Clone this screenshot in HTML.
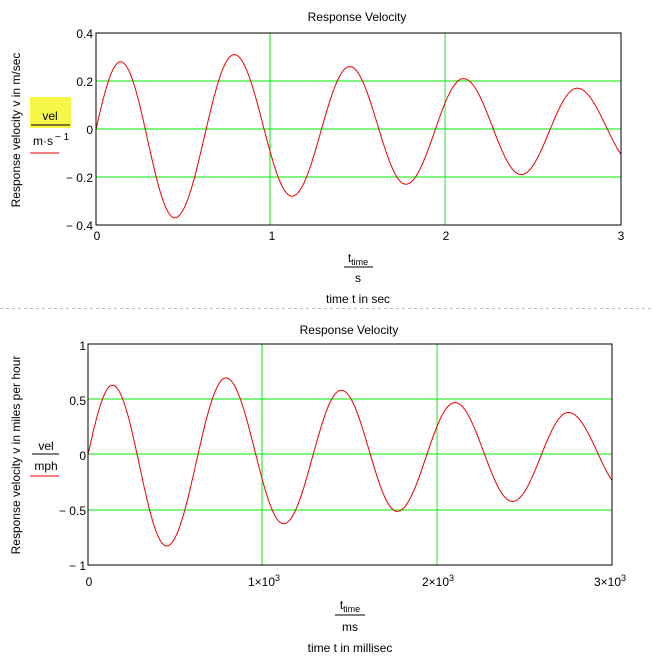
<!DOCTYPE html>
<html><head><meta charset="utf-8"><style>
body{margin:0;background:#fff;}
svg{display:block;font-family:"Liberation Sans",Arial,sans-serif;font-size:12px;}
</style></head><body>
<svg id="s" width="653" height="661" viewBox="0 0 653 661">
<rect width="653" height="661" fill="#fff"/>
<!-- Plot 1 -->
<text x="357" y="21" text-anchor="middle">Response Velocity</text>
<g stroke="#00ee00" stroke-width="1" shape-rendering="crispEdges">
<line x1="96" y1="81" x2="621" y2="81"/><line x1="96" y1="129" x2="621" y2="129"/><line x1="96" y1="177" x2="621" y2="177"/>
<line x1="270" y1="33" x2="270" y2="225"/><line x1="445" y1="33" x2="445" y2="225" stroke="#33dd33"/>
</g>
<path id="p1" fill="none" stroke="#e00" stroke-width="1"/>
<rect x="96" y="33" width="525" height="192" fill="none" stroke="#000" stroke-width="1" shape-rendering="crispEdges"/>
<g text-anchor="end">
<text x="93" y="38">0.4</text><text x="93" y="86">0.2</text><text x="93" y="134">0</text><text x="93" y="182">− 0.2</text><text x="93" y="230">− 0.4</text>
</g>
<g text-anchor="middle">
<text x="97" y="240">0</text><text x="272" y="240">1</text><text x="446" y="240">2</text><text x="621" y="240">3</text>
</g>
<text transform="translate(20,130) rotate(-90)" text-anchor="middle">Response velocity v  in m/sec</text>
<rect x="30" y="97" width="41" height="31" fill="#f5f54a"/>
<text x="50" y="120" text-anchor="middle">vel</text>
<line x1="31" y1="125" x2="70" y2="125" stroke="#000"/>
<text x="33" y="145">m·s</text><text x="55" y="140" font-size="10">− 1</text>
<line x1="30" y1="153" x2="59" y2="153" stroke="#e00"/>
<text x="358" y="262" text-anchor="middle">t<tspan font-size="9" dy="3">time</tspan></text>
<line x1="344" y1="267" x2="373" y2="267" stroke="#000"/>
<text x="358" y="282" text-anchor="middle">s</text>
<text x="358" y="303" text-anchor="middle">time t in sec</text>
<line x1="0" y1="308.5" x2="653" y2="308.5" stroke="#bbb" stroke-dasharray="3,3"/>
<!-- Plot 2 -->
<text x="349" y="334" text-anchor="middle">Response Velocity</text>
<g stroke="#00ee00" stroke-width="1" shape-rendering="crispEdges">
<line x1="88" y1="399" x2="612" y2="399"/><line x1="88" y1="454" x2="612" y2="454"/><line x1="88" y1="510" x2="612" y2="510"/>
<line x1="262" y1="344" x2="262" y2="565"/><line x1="437" y1="344" x2="437" y2="565" stroke="#33dd33"/>
</g>
<path id="p2" fill="none" stroke="#e00" stroke-width="1"/>
<rect x="88" y="344" width="524" height="221" fill="none" stroke="#000" stroke-width="1" shape-rendering="crispEdges"/>
<g text-anchor="end">
<text x="86" y="350">1</text><text x="86" y="405">0.5</text><text x="86" y="460">0</text><text x="86" y="515">− 0.5</text><text x="86" y="570">− 1</text>
</g>
<text x="89" y="586" text-anchor="middle">0</text>
<text x="264" y="586" text-anchor="middle">1×10<tspan font-size="9" dy="-5">3</tspan></text>
<text x="438" y="586" text-anchor="middle">2×10<tspan font-size="9" dy="-5">3</tspan></text>
<text x="610" y="586" text-anchor="middle">3×10<tspan font-size="9" dy="-5">3</tspan></text>
<text transform="translate(20,455) rotate(-90)" text-anchor="middle">Response velocity v  in miles per hour</text>
<text x="46" y="450" text-anchor="middle">vel</text>
<line x1="32" y1="454" x2="59" y2="454" stroke="#000"/>
<text x="46" y="470" text-anchor="middle">mph</text>
<line x1="30" y1="476" x2="59" y2="476" stroke="#e00"/>
<text x="350" y="609" text-anchor="middle">t<tspan font-size="9" dy="3">time</tspan></text>
<line x1="335" y1="615" x2="365" y2="615" stroke="#000"/>
<text x="350" y="631" text-anchor="middle">ms</text>
<text x="350" y="652" text-anchor="middle">time t in millisec</text>
</svg>
<script>
var ex=[[0.14,0.28],[0.45,-0.37],[0.79,0.31],[1.12,-0.28],[1.45,0.26],[1.77,-0.23],[2.1,0.21],[2.43,-0.19],[2.75,0.17],[3.08,-0.15]];
function v(t){
 if(t<=0.14) return 0.28*Math.sin(t/0.14*Math.PI/2);
 for(var i=0;i<ex.length-1;i++){var a=ex[i],b=ex[i+1];
  if(t<=b[0]){var f=(t-a[0])/(b[0]-a[0]);return a[1]+(b[1]-a[1])*(1-Math.cos(f*Math.PI))/2;}}
 return 0;}
var d1="",d2="";
for(var i=0;i<=600;i++){var t=3*i/600,y=v(t);
 d1+=(i?"L":"M")+(96+t*175).toFixed(1)+","+(129-y*240).toFixed(1);
 d2+=(i?"L":"M")+(88+t*174.7).toFixed(1)+","+(454.5-y*2.237*110.5).toFixed(1);}
document.getElementById("p1").setAttribute("d",d1);
document.getElementById("p2").setAttribute("d",d2);
</script>
</body></html>
